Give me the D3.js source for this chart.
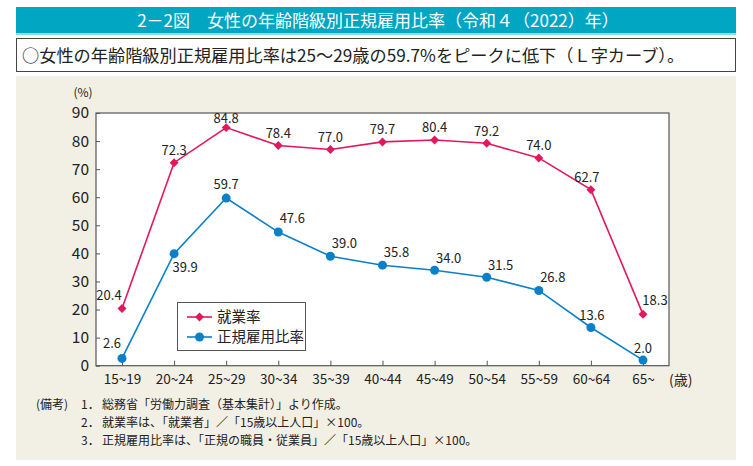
<!DOCTYPE html>
<html><head><meta charset="utf-8">
<script src="https://cdn.jsdelivr.net/npm/d3@7"></script>
<style>
body{margin:0;background:#fff;}
text{font-family:"Noto Sans CJK JP","Noto Sans",sans-serif;}
</style></head>
<body><svg id="c" width="753" height="466"></svg>
<script>
const categories = ["15~19","20~24","25~29","30~34","35~39","40~44","45~49","50~54","55~59","60~64","65~"];
const employmentRate = [20.4,72.3,84.8,78.4,77.0,79.7,80.4,79.2,74.0,62.7,18.3];
const regularRate = [2.6,39.9,59.7,47.6,39.0,35.8,34.0,31.5,26.8,13.6,2.0];
const yTicks = [0,10,20,30,40,50,60,70,80,90];
const seriesNames = ["就業率","正規雇用比率"];
const titleText = "2－2図　女性の年齢階級別正規雇用比率（令和４（2022）年）";
const subtitleText = "○女性の年齢階級別正規雇用比率は25～29歳の59.7%をピークに低下（Ｌ字カーブ）。";
const notes = [
  ["(備考)","1．","総務省「労働力調査（基本集計）」より作成。"],
  ["","2．","就業率は、「就業者」／「15歳以上人口」×100。"],
  ["","3．","正規雇用比率は、「正規の職員・従業員」／「15歳以上人口」×100。"]
];
// label offsets (dx, dy) per point
const empOff = [[-13,-13],[0,-12],[0,-9],[0,-12],[0,-12],[0,-12],[0,-12],[0,-12],[0,-12],[-4,-12],[12,-14]];
const regOff = [[-10,-15],[11,14],[0,-14],[14,-14],[14,-13],[14,-13],[14,-12],[14,-12],[14,-13],[1,-12],[0,-12]];

const svg = d3.select("#c");
const pink = "#e5175c", blue = "#0a80c9";

// header
svg.append("rect").attr("x",16).attr("y",7).attr("width",720).attr("height",26).attr("fill","#00a6c2");
svg.append("rect").attr("x",16).attr("y",33).attr("width",720).attr("height",2).attr("fill","#8fdbe6");
svg.append("text").attr("x",378).attr("y",26.5).attr("text-anchor","middle").attr("fill","#fff")
  .attr("font-size",17).text(titleText);
svg.append("rect").attr("x",16.5).attr("y",38.5).attr("width",719).attr("height",33)
  .attr("fill","#fff").attr("stroke","#444").attr("stroke-width",1);
svg.append("text").attr("x",22).attr("y",61.5).attr("fill","#222").attr("font-size",17.2).text(subtitleText);
svg.append("rect").attr("x",16).attr("y",76).attr("width",720).attr("height",384).attr("fill","#f2efe5");

const L=96, R=669, T=113, B=365.7;
const x = d3.scalePoint().domain(categories).range([122,643]);
const y = d3.scaleLinear().domain([0,90]).range([B,T]);

svg.append("rect").attr("x",L).attr("y",T).attr("width",R-L).attr("height",B-T)
  .attr("fill","#fff").attr("stroke","#555").attr("stroke-width",1.2);

// y axis
const ya = svg.append("g").attr("transform",`translate(${L},0)`)
  .call(d3.axisLeft(y).tickValues(yTicks).tickSize(-4).tickPadding(7).tickFormat(d3.format("d")));
ya.select(".domain").remove();
ya.selectAll("line").attr("stroke","#555");
ya.selectAll("text").attr("font-size",15.5).attr("fill","#222").attr("font-family","'Noto Sans CJK JP',sans-serif");

// x axis
const xa = svg.append("g").attr("transform",`translate(0,${B})`)
  .call(d3.axisBottom(x).tickSize(-5).tickPadding(9));
xa.select(".domain").remove();
xa.selectAll("line").attr("stroke","#555");
xa.selectAll("text").attr("font-size",13.5).attr("fill","#222").attr("font-family","'Noto Sans CJK JP',sans-serif");

svg.append("text").attr("x",669).attr("y",385).attr("font-size",14).attr("fill","#222").text("(歳)");
svg.append("text").attr("x",83).attr("y",97).attr("text-anchor","middle").attr("font-size",12).attr("fill","#222").text("(%)");

const line = d3.line().x((d,i)=>x(categories[i])).y(d=>y(d));
svg.append("path").datum(employmentRate).attr("d",line).attr("fill","none").attr("stroke",pink).attr("stroke-width",1.6);
svg.append("path").datum(regularRate).attr("d",line).attr("fill","none").attr("stroke",blue).attr("stroke-width",1.6);

svg.selectAll(".emp").data(employmentRate).enter().append("path")
  .attr("d", d3.symbol().type(d3.symbolSquare).size(40))
  .attr("transform",(d,i)=>`translate(${x(categories[i])},${y(d)}) rotate(45)`).attr("fill",pink);
svg.selectAll(".reg").data(regularRate).enter().append("circle")
  .attr("cx",(d,i)=>x(categories[i])).attr("cy",d=>y(d)).attr("r",4.5).attr("fill",blue);

const lbl = (arr,off)=>svg.append("g").selectAll("text").data(arr).enter().append("text")
  .attr("x",(d,i)=>x(categories[i])+off[i][0]).attr("y",(d,i)=>y(d)+off[i][1]+4.5)
  .attr("text-anchor","middle").attr("font-size",13).attr("fill","#222").text(d=>d.toFixed(1));
lbl(employmentRate,empOff);
lbl(regularRate,regOff);

// legend
svg.append("rect").attr("x",177.5).attr("y",302.5).attr("width",128).attr("height",48)
  .attr("fill","#fff").attr("stroke","#555").attr("stroke-width",1);
const lg = [[pink,317],[blue,337]];
lg.forEach((c,k)=>{
  svg.append("line").attr("x1",187).attr("x2",212).attr("y1",c[1]).attr("y2",c[1]).attr("stroke",c[0]).attr("stroke-width",1.6);
  if(k===0) svg.append("path").attr("d",d3.symbol().type(d3.symbolSquare).size(40)()).attr("transform",`translate(199.5,${c[1]}) rotate(45)`).attr("fill",c[0]);
  else svg.append("circle").attr("cx",199.5).attr("cy",c[1]).attr("r",4.5).attr("fill",c[0]);
  svg.append("text").attr("x",217).attr("y",c[1]+5).attr("font-size",14.5).attr("fill","#222").text(seriesNames[k]);
});

// notes
notes.forEach((n,k)=>{
  const yy = 409 + k*18;
  svg.append("text").attr("x",36).attr("y",yy).attr("font-size",12).attr("fill","#222").text(n[0]);
  svg.append("text").attr("x",81).attr("y",yy).attr("font-size",12).attr("fill","#222").text(n[1]);
  svg.append("text").attr("x",102).attr("y",yy).attr("font-size",12).attr("fill","#222").text(n[2]);
});
</script></body></html>
